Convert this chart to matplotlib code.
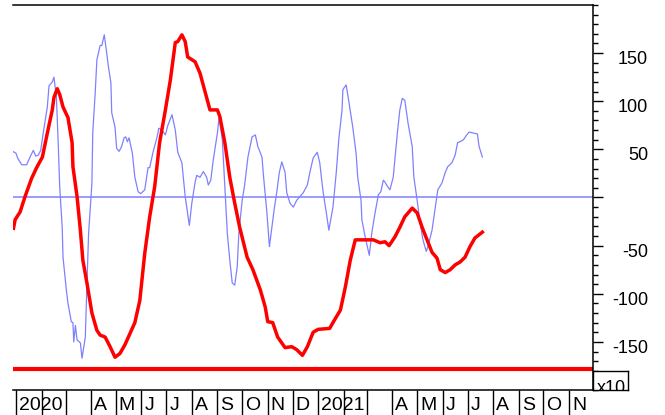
import matplotlib
matplotlib.use('Agg')
import matplotlib.pyplot as plt
import matplotlib.transforms as mtransforms
import pandas as pd
from matplotlib.ticker import FixedLocator, MultipleLocator, NullFormatter

plt.rcParams['font.family'] = ['Liberation Sans', 'DejaVu Sans']

# x values are days counted from 2020-01-01
red_day = [-3, -1, 5, 11, 19, 25, 32, 38, 44, 46,
           50, 53, 57, 63, 68, 69, 74, 78, 81, 86,
           92, 98, 102, 108, 114, 120, 126, 132, 144, 150,
           156, 162, 168, 174, 181, 187, 193, 196, 201, 205,
           208, 217, 223, 229, 235, 244, 247, 253, 259, 265,
           271, 280, 287, 296, 302, 305, 311, 317, 326, 334,
           340, 347, 353, 360, 366, 380, 386, 393, 399, 405,
           411, 423, 433, 441, 447, 452, 459, 465, 471, 480,
           486, 492, 498, 504, 510, 514, 520, 526, 532, 538,
           544, 550, 556, 565]
red_val = [-32, -23, -15, 1, 20, 31, 42, 67, 91, 104,
           113, 107, 94, 83, 57, 32, 1, -34, -65, -89,
           -120, -138, -143, -145, -155, -166, -162, -153, -130, -107,
           -58, -20, 11, 57, 91, 122, 161, 162, 169, 162,
           146, 141, 129, 110, 91, 91, 84, 57, 21, -6,
           -31, -62, -75, -96, -114, -129, -130, -145, -156, -155,
           -158, -164, -155, -140, -137, -136, -127, -117, -93, -65,
           -44, -44, -44, -47, -46, -50, -41, -31, -20, -11,
           -16, -31, -44, -57, -63, -75, -78, -75, -70, -67,
           -62, -51, -42, -36]

blue_day = [-4, 0, 2, 7, 13, 17, 21, 24, 27, 30,
            33, 38, 40, 44, 46, 49, 51, 53, 56, 57,
            61, 63, 67, 69, 70, 72, 74, 78, 80, 84,
            86, 88, 92, 93, 96, 98, 102, 104, 107, 109,
            112, 115, 116, 120, 122, 125, 128, 131, 133, 135,
            137, 141, 144, 148, 151, 156, 160, 162, 166, 171,
            173, 177, 181, 184, 189, 193, 196, 201, 205, 210,
            213, 217, 219, 223, 227, 231, 233, 236, 239, 244,
            246, 250, 253, 256, 259, 262, 265, 268, 270, 274,
            277, 281, 286, 290, 293, 298, 300, 304, 307, 310,
            313, 316, 319, 322, 326, 328, 332, 336, 340, 344,
            348, 353, 356, 360, 365, 368, 372, 376, 379, 384,
            388, 391, 395, 396, 400, 403, 408, 412, 414, 418,
            419, 423, 428, 431, 435, 439, 442, 445, 447, 449,
            453, 457, 459, 462, 465, 468, 471, 475, 480, 482,
            486, 489, 493, 497, 499, 504, 508, 511, 516, 520,
            523, 528, 532, 535, 538, 542, 546, 549, 554, 559,
            561, 565]
blue_val = [48, 46, 41, 34, 34, 42, 49, 43, 44, 49,
            67, 94, 116, 120, 125, 104, 60, 11, -31, -62,
            -96, -110, -129, -130, -150, -133, -148, -151, -167, -145,
            -89, -37, 15, 67, 109, 143, 158, 158, 169, 156,
            136, 119, 88, 73, 51, 48, 53, 62, 63, 58,
            62, 46, 21, 6, 4, 8, 31, 31, 47, 63,
            72, 70, 65, 75, 86, 70, 47, 36, 1, -29,
            -6, 16, 23, 21, 27, 21, 13, 18, 39, 67,
            83, 60, 11, -37, -65, -89, -91, -72, -37, -3,
            13, 42, 63, 65, 53, 42, 21, -16, -51, -31,
            -11, 6, 26, 37, 26, 5, -6, -10, -3, 1,
            5, 13, 26, 41, 47, 36, 6, -16, -34, -10,
            26, 60, 91, 112, 117, 101, 73, 46, 21, -3,
            -23, -41, -60, -37, -16, 3, 6, 18, 16, 13,
            8, 21, 39, 67, 91, 103, 101, 77, 53, 21,
            -3, -23, -44, -56, -51, -34, -10, 8, 15, 26,
            32, 36, 44, 57, 58, 60, 65, 68, 67, 66,
            53, 42]

red_level = -178
month_labels = ['2020', '', '', 'A', 'M', 'J', 'J', 'A', 'S', 'O', 'N', 'D',
                '2021', '', '', 'A', 'M', 'J', 'J', 'A', 'S', 'O', 'N']
y_labels = [150, 100, 50, -50, -100, -150]

start = pd.Timestamp('2020-01-01')
months = pd.date_range('2020-01-01', '2021-11-01', freq='MS')
month_days = [(m - start).days for m in months]

fig = plt.figure(figsize=(6.65, 4.15), dpi=100)
ax = fig.add_axes([13/665, 25/415, 580/665, 385/415])

ax.plot(blue_day, blue_val, color='#8080ff', lw=0.9)
ax.axhline(0, color='#8080ff', lw=1.1)
ax.plot(red_day, red_val, color='red', lw=2.5)
ax.axhline(red_level, color='red', lw=3)

ax.set_xlim(-3.6, 699)
ax.set_ylim(-200, 200)

ax.spines['left'].set_visible(False)
for s in ['top', 'bottom', 'right']:
    ax.spines[s].set_linewidth(1.1)

# right hand scale
ax.yaxis.tick_right()
ax.yaxis.set_major_locator(FixedLocator([-150, -100, -50, 0, 50, 100, 150]))
ax.yaxis.set_minor_locator(MultipleLocator(10))
ax.yaxis.set_major_formatter(NullFormatter())
ax.tick_params(axis='y', which='major', length=7, width=1)
ax.tick_params(axis='y', which='minor', length=3.5, width=1)
lab_off = mtransforms.ScaledTranslation(55/100, 2/100, fig.dpi_scale_trans)
for v in y_labels:
    ax.text(1, v, str(v), transform=ax.get_yaxis_transform() + lab_off,
            ha='right', va='top', fontsize=13, clip_on=False)

# month cells under the plot
ax.set_xticks(month_days)
ax.tick_params(axis='x', length=18, width=1, labelbottom=False)
m_off = mtransforms.ScaledTranslation(3/100, -20/100, fig.dpi_scale_trans)
for d, lab in zip(month_days, month_labels):
    ax.text(d, 0, lab, transform=ax.get_xaxis_transform() + m_off,
            ha='left', va='baseline', fontsize=14, clip_on=False)

# small x10 box at the lower right
bx = fig.add_axes([593/665, 25/415, 35/665, 19/415])
bx.set_xticks([])
bx.set_yticks([])
for s in bx.spines.values():
    s.set_linewidth(1)
bx.text(0.1, -0.16, 'x10', transform=bx.transAxes, fontsize=13,
        va='baseline', clip_on=True)

fig.savefig('out.png', dpi=100)
